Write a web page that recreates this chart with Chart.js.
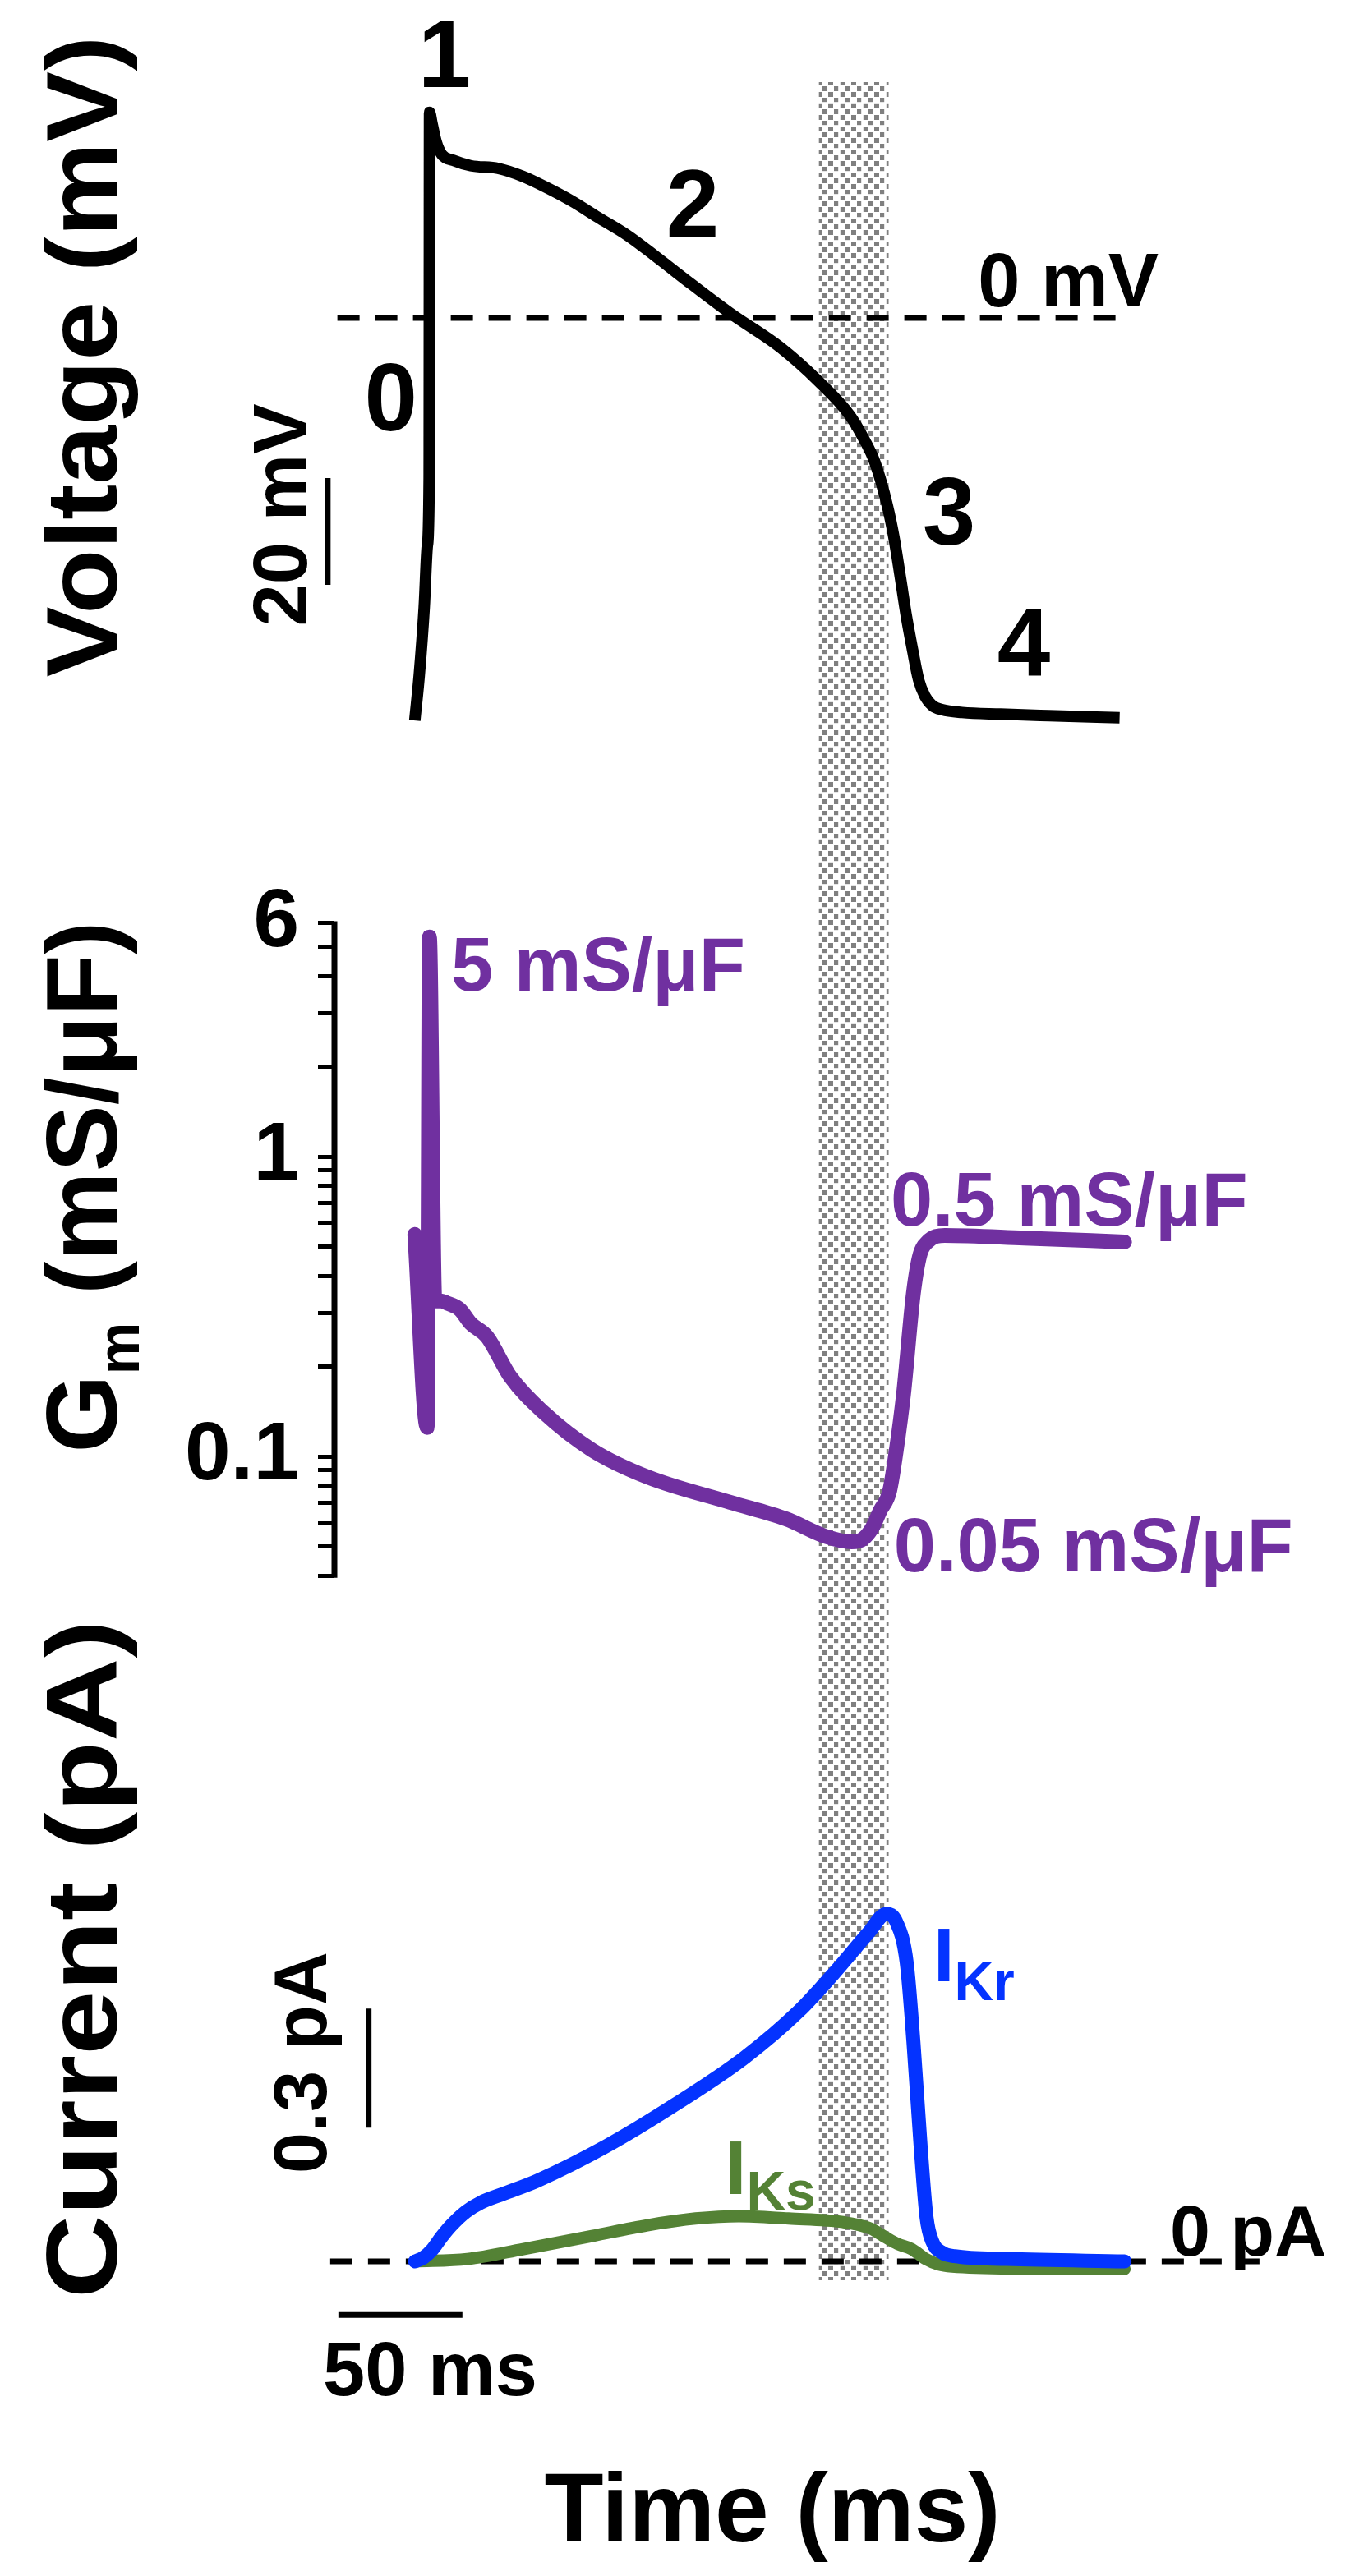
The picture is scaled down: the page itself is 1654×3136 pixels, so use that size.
<!DOCTYPE html>
<html>
<head>
<meta charset="utf-8">
<script src="https://cdn.jsdelivr.net/npm/chart.js@4.4.1/dist/chart.umd.min.js"></script>
<style>
  html, body { margin: 0; padding: 0; background: #fff; }
  #wrap { width: 1654px; height: 3136px; }
</style>
</head>
<body>
<div id="wrap"><canvas id="chart" width="1654" height="3136"></canvas></div>
<script>
const FONT = '"Liberation Sans", Arial, Helvetica, sans-serif';
const PURPLE = '#7030a0';
const BLUE = '#0433ff';
const GREEN = '#548235';

// action potential (ms, mV)
const vTime = [-5.6, -3.8, -1.8, -0.5, 0.2, 0.35, 1.3, 3, 5.3, 10, 17, 28, 38, 48, 58, 68, 80, 91, 106, 121.5, 141.7, 157, 169.7, 175, 179.9, 184.9, 187.5, 190.2, 192.6, 195.1, 197.5, 200, 203, 207, 215, 230.5, 250, 278.5];
const voltage = [-75.4, -66.9, -54.2, -42.5, -30, 38.5, 36.5, 33, 30.6, 29.5, 28.5, 28.0, 26.5, 24.3, 21.8, 18.9, 15.5, 11.7, 6.3, 0.9, -5.5, -11.8, -18.2, -22.3, -27.1, -35.2, -41, -48.8, -56, -62.3, -67.8, -70.8, -72.6, -73.4, -73.9, -74.2, -74.5, -74.9];

// membrane conductance (ms, mS/uF)
const gTime = [-5.6, -0.6, 0.3, 2.5, 5, 7.3, 12.6, 16.9, 23.5, 33, 46.4, 65.9, 88.1, 121.5, 144, 160.6, 170.5, 175, 178.8, 182, 185.8, 188.5, 191.4, 195.4, 198, 201, 208, 240, 280.5];
const gm = [0.55, 0.125, 5.4, 0.33, 0.33, 0.325, 0.309, 0.278, 0.251, 0.184, 0.140, 0.105, 0.0855, 0.0703, 0.0619, 0.0539, 0.0519, 0.053, 0.0578, 0.066, 0.0767, 0.105, 0.161, 0.351, 0.47, 0.519, 0.546, 0.535, 0.519];

// currents (ms, pA)
const ikrTime = [-5.5, -2, 1.5, 5, 9, 15, 21, 30, 43.7, 71.5, 99.3, 127.2, 149.3, 163.2, 177.5, 184.4, 188.4, 192.7, 195.4, 198.3, 200.7, 203, 207, 212, 233, 280.5];
const ikr = [0, 0.01, 0.03, 0.06, 0.09, 0.125, 0.148, 0.17, 0.203, 0.29, 0.395, 0.513, 0.631, 0.725, 0.83, 0.876, 0.857, 0.752, 0.553, 0.29, 0.11, 0.05, 0.022, 0.013, 0.006, 0];
const iksTime = [-5.3, 15.6, 38.1, 65.9, 88.1, 107.6, 125, 145, 167, 178, 183.8, 189, 194.7, 200.3, 205.6, 211, 240, 280.5];
const iks = [0, 0.006, 0.031, 0.064, 0.091, 0.108, 0.114, 0.108, 0.099, 0.083, 0.062, 0.044, 0.031, 0.006, -0.008, -0.013, -0.018, -0.019];

// shaded window (ms)
const band = [157.3, 185.4];

// Gm axis ticks
const gmTicks = [0.04, 0.05, 0.06, 0.07, 0.08, 0.09, 0.1, 0.2, 0.3, 0.4, 0.5, 0.6, 0.7, 0.8, 0.9, 1, 2, 3, 4, 5, 6];
const gmLabelled = [0.1, 1, 6];

// reference lines and scale bars
const zeroLineV = [-36.8, 279.8];
const zeroLineI = [-39.7, 339];
const barV = [-30, -50];      // 20 mV
const barI = [0.337, 0.637];  // 0.3 pA
const barT = [-36.4, 13.6];   // 50 ms

const pts = (xs, ys) => xs.map((x, i) => ({ x: x, y: ys[i] }));

const datasets = [
  { data: pts(ikrTime, ikr), yAxisID: 'yI', borderColor: BLUE, borderWidth: 17, borderCapStyle: 'round', borderJoinStyle: 'round', cubicInterpolationMode: 'monotone' },
  { data: pts(iksTime, iks), yAxisID: 'yI', borderColor: GREEN, borderWidth: 15, borderCapStyle: 'round', borderJoinStyle: 'round', cubicInterpolationMode: 'monotone' },
  { data: pts(gTime, gm), yAxisID: 'yG', borderColor: PURPLE, borderWidth: 18, borderCapStyle: 'round', borderJoinStyle: 'round', cubicInterpolationMode: 'monotone' },
  { data: pts(vTime, voltage), yAxisID: 'yV', borderColor: '#000', borderWidth: 14, borderJoinStyle: 'round', cubicInterpolationMode: 'monotone' },
  { data: pts(zeroLineV, [0, 0]), yAxisID: 'yV', borderColor: '#000', borderWidth: 7, borderDash: [27, 19] },
  { data: pts(zeroLineI, [0, 0]), yAxisID: 'yI', borderColor: '#000', borderWidth: 7, borderDash: [27, 19] },
  { data: pts([-40.7, -40.7], barV), yAxisID: 'yV', borderColor: '#000', borderWidth: 7 },
  { data: pts([-24.2, -24.2], barI), yAxisID: 'yI', borderColor: '#000', borderWidth: 7 },
  { data: pts(barT, [-0.135, -0.135]), yAxisID: 'yI', borderColor: '#000', borderWidth: 7 }
];
datasets.forEach(d => { d.clip = false; d.pointRadius = 0; d.fill = false; });

// annotations placed in data units on their own panel axis
const notes = [
  { axis: 'yV', x: 6.4, y: 43.2, align: 'center', parts: [['1', 116]] },
  { axis: 'yV', x: 106.4, y: 15.2, align: 'center', parts: [['2', 116]] },
  { axis: 'yV', x: -15.2, y: -21.1, align: 'center', parts: [['0', 116]] },
  { axis: 'yV', x: 209.7, y: -42.5, align: 'center', parts: [['3', 116]] },
  { axis: 'yV', x: 239.9, y: -66.9, align: 'center', parts: [['4', 116]] },
  { axis: 'yV', x: 257.8, y: 2.15, align: 'center', parts: [['0 mV', 92]] },
  { axis: 'yV', x: -49.3, y: -36.9, align: 'center', rotate: true, parts: [['20 mV', 92]] },
  { axis: 'yG', x: 9.0, y: 3.58, color: PURPLE, parts: [['5 mS/μF', 92]] },
  { axis: 'yG', x: 186.2, y: 0.589, color: PURPLE, parts: [['0.5 mS/μF', 92]] },
  { axis: 'yG', x: 187.5, y: 0.0414, color: PURPLE, parts: [['0.05 mS/μF', 92]] },
  { axis: 'yI', x: 203.4, y: 0.706, color: BLUE, parts: [['I', 92], ['Kr', 66, 23]] },
  { axis: 'yI', x: 119.6, y: 0.170, color: GREEN, parts: [['I', 92], ['Ks', 66, 19]] },
  { axis: 'yI', x: 298.8, y: 0.0145, parts: [['0 pA', 88]] },
  { axis: 'yI', x: -41.3, y: 0.501, align: 'center', rotate: true, parts: [['0.3 pA', 90]] },
  { axis: 'yI', x: -42.6, y: -0.3375, parts: [['50 ms', 92]] }
];

function drawText(ctx, parts, x, y, align, rotate, color, stretch) {
  ctx.save();
  ctx.translate(x, y);
  if (rotate) ctx.rotate(-Math.PI / 2);
  if (stretch) ctx.scale(stretch, 1);
  ctx.textBaseline = 'alphabetic';
  ctx.textAlign = 'left';
  ctx.fillStyle = color || '#000';
  const widths = parts.map(p => {
    ctx.font = 'bold ' + p[1] + 'px ' + FONT;
    return ctx.measureText(p[0]).width;
  });
  const total = widths.reduce((a, b) => a + b, 0);
  let cx = align === 'center' ? -total / 2 : 0;
  parts.forEach((p, i) => {
    ctx.font = 'bold ' + p[1] + 'px ' + FONT;
    ctx.fillText(p[0], cx, p[2] || 0);
    cx += widths[i];
  });
  ctx.restore();
}

// small checker with lighter crosses, like the shaded window of the original
function checker(ctx) {
  const c = document.createElement('canvas');
  c.width = 28;
  c.height = 28;
  const g = c.getContext('2d');
  g.fillStyle = '#fff';
  g.fillRect(0, 0, 28, 28);
  g.fillStyle = '#808080';
  for (let i = 0; i < 4; i++) {
    for (let j = 0; j < 4; j++) {
      if ((i + j) % 2 === 0) g.fillRect(i * 7, j * 7, 6, 6);
    }
  }
  g.fillStyle = 'rgba(255,255,255,0.8)';
  g.fillRect(0, 12, 28, 3);
  g.fillRect(12, 0, 3, 28);
  return ctx.createPattern(c, 'repeat');
}

const overlay = {
  id: 'overlay',
  beforeDatasetsDraw(chart) {
    const { ctx, chartArea, scales } = chart;
    const x0 = scales.x.getPixelForValue(band[0]);
    const x1 = scales.x.getPixelForValue(band[1]);
    ctx.save();
    ctx.fillStyle = checker(ctx);
    ctx.fillRect(x0, chartArea.top, x1 - x0, chartArea.bottom - chartArea.top);

    // visible part of the conductance axis
    const ya = scales.yG.getPixelForValue(gmTicks[gmTicks.length - 1]);
    const yb = scales.yG.getPixelForValue(gmTicks[0]);
    ctx.strokeStyle = '#000';
    ctx.lineWidth = 7;
    ctx.beginPath();
    ctx.moveTo(chartArea.left, ya - 2.5);
    ctx.lineTo(chartArea.left, yb + 2.5);
    ctx.stroke();
    ctx.restore();
  },
  afterDatasetsDraw(chart) {
    const { ctx, scales } = chart;
    notes.forEach(n => {
      const px = scales.x.getPixelForValue(n.x);
      const py = scales[n.axis].getPixelForValue(n.y);
      drawText(ctx, n.parts, px, py, n.align, n.rotate, n.color);
    });
    // axis titles
    drawText(ctx, [['Voltage (mV)', 122]], 142, 434, 'center', true, '#000', 1.06);
    drawText(ctx, [['G', 122], ['m', 72, 27], [' (mS/μF)', 122]], 142, 1445, 'center', true, '#000', 1.0);
    drawText(ctx, [['Current (pA)', 122]], 142, 2385, 'center', true, '#000', 1.15);
    drawText(ctx, [['Time (ms)', 118]], 940, 3094, 'center', false);
  }
};

new Chart(document.getElementById('chart'), {
  type: 'line',
  data: { datasets: datasets },
  options: {
    responsive: false,
    animation: false,
    events: [],
    layout: { padding: { top: 100, bottom: 360, left: 0, right: 0 } },
    plugins: { legend: { display: false }, tooltip: { enabled: false } },
    elements: { point: { radius: 0 }, line: { tension: 0 } },
    scales: {
      x: { type: 'linear', min: -38, max: 375, display: false },
      yV: { type: 'linear', position: 'left', min: -367.538, max: 44.154, display: false },
      yG: {
        type: 'logarithmic',
        position: 'left',
        min: 1.787e-4,
        max: 3833.8,
        bounds: 'data',
        afterBuildTicks: s => { s.ticks = gmTicks.map(v => ({ value: v })); },
        afterFit: s => { s.width = 407; },
        border: { display: false },
        grid: { drawOnChartArea: false, drawTicks: true, tickLength: 20, lineWidth: 5, color: '#000' },
        ticks: {
          autoSkip: false,
          padding: 23,
          color: '#000',
          font: { family: FONT, size: 100, weight: 'bold' },
          callback: v => gmLabelled.includes(v) ? String(v) : ''
        }
      },
      yI: { type: 'linear', position: 'left', min: -0.047619, max: 5.49275, display: false }
    }
  },
  plugins: [overlay]
});
</script>
</body>
</html>
